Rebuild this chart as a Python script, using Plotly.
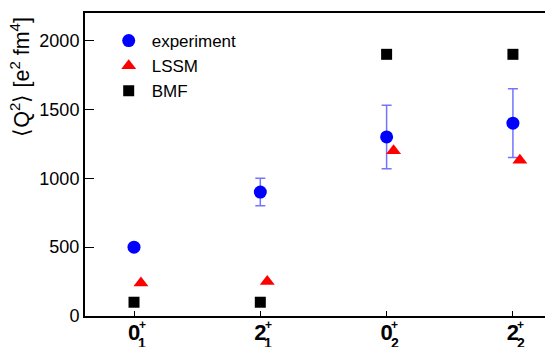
import plotly.graph_objects as go

# ---- data ----
states_spin = ["0", "2", "0", "2"]
states_index = ["1", "1", "2", "2"]
state_pos = [0, 1, 2, 3]

exp_vals = [500, 900, 1300, 1400]
exp_err = [0, 100, 230, 250]
lssm_vals = [240, 250, 1200, 1130]
bmf_vals = [100, 100, 1900, 1900]
lssm_shift = 0.055

y_ticks = [0, 500, 1000, 1500, 2000]
y_title = "⟨Q<sup>2</sup>⟩ [e<sup>2</sup> fm<sup>4</sup>]"

FONT = "Liberation Sans, Arial, Helvetica, sans-serif"

fig = go.Figure()

fig.add_trace(go.Scatter(
    x=state_pos, y=exp_vals, mode="markers", name="experiment",
    marker=dict(symbol="circle", size=13, color="#0000ff"),
    error_y=dict(type="data", array=exp_err, visible=True,
                 color="rgba(70,70,255,0.75)", thickness=1.5, width=5),
))
fig.add_trace(go.Scatter(
    x=[p + lssm_shift for p in state_pos], y=lssm_vals, mode="markers", name="LSSM",
    marker=dict(symbol="triangle-up", size=13, color="#ff0000"),
))
fig.add_trace(go.Scatter(
    x=state_pos, y=bmf_vals, mode="markers", name="BMF",
    marker=dict(symbol="square", size=11, color="#000000"),
))

# stacked superscript "+" and subscript index next to each bold tick digit
for p, i in zip(state_pos, states_index):
    fig.add_annotation(x=p, xref="x", y=0, yref="paper", text="<b>+</b>",
                       showarrow=False, xshift=8, yshift=-9, yanchor="middle",
                       font=dict(family=FONT, size=12, color="black"))
    fig.add_annotation(x=p, xref="x", y=0, yref="paper", text="<b>%s</b>" % i,
                       showarrow=False, xshift=8, yshift=-27, yanchor="middle",
                       font=dict(family=FONT, size=14, color="black"))

# y-axis title, aligned towards the top of the axis
fig.add_annotation(x=-0.1413, xref="paper", y=0.79, yref="paper", text=y_title,
                   textangle=-90, showarrow=False, xanchor="center", yanchor="middle",
                   font=dict(family=FONT, size=21.5, color="black"))

fig.update_layout(
    width=545, height=347,
    margin=dict(l=85, r=0, t=13, b=31),
    paper_bgcolor="white", plot_bgcolor="white",
    font=dict(family=FONT, color="black"),
    showlegend=True,
    legend=dict(x=0.045, y=0.967, xanchor="left", yanchor="top", itemwidth=36,
                bgcolor="rgba(0,0,0,0)", font=dict(family=FONT, size=17)),
)
fig.update_xaxes(
    range=[-0.388, 3.254], tickvals=state_pos,
    ticktext=["<b>%s</b>" % s for s in states_spin],
    tickfont=dict(family=FONT, size=22, color="black"),
    ticks="inside", ticklen=5, tickwidth=1, tickcolor="black",
    ticklabelstandoff=-4,
    showline=True, linecolor="black", linewidth=1.5, mirror=True,
    showgrid=False, zeroline=False,
)
fig.update_yaxes(
    range=[0, 2200], tickvals=y_ticks,
    tickfont=dict(family=FONT, size=18, color="black"),
    ticks="inside", ticklen=9, tickwidth=1, tickcolor="black",
    showline=True, linecolor="black", linewidth=2,
    showgrid=False, zeroline=False,
)

fig.write_html("out.html")
